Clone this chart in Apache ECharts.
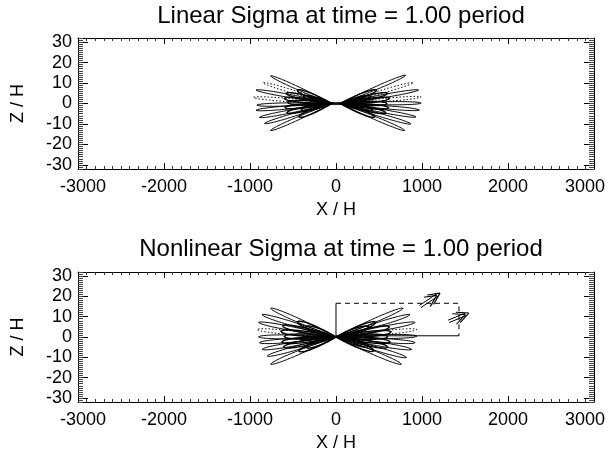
<!DOCTYPE html>
<html>
<head>
<meta charset="utf-8">
<script src="https://cdn.jsdelivr.net/npm/echarts@6/dist/echarts.min.js"></script>
<style>html,body{margin:0;padding:0;background:#fff}#c{width:608px;height:453px}</style>
</head>
<body>
<div id="c"></div>
<script>
// ---------------- data ----------------
const titles = ['Linear Sigma at time = 1.00 period', 'Nonlinear Sigma at time = 1.00 period'];
const xTicks = [-3000, -2000, -1000, 0, 1000, 2000, 3000];
const zTicks = [-30, -20, -10, 0, 10, 20, 30];

// Top panel (linear): apex points and lobe tips
const linApexX = [-50, 50];
const linApexZ = [0, 0];
const linLeftTipX  = [-760, -850, -930, -960, -920, -930, -890, -830, -760];
const linLeftTipZ  = [13.5, 10.2, 6.6, 3.0, -0.8, -3.3, -6.8, -9.8, -13.2];
const linRightTipX = [810, 900, 960, 990, 990, 970, 930, 870, 800];
const linRightTipZ = [13.8, 10.2, 6.6, 3.2, 0.2, -3.2, -6.6, -10.0, -13.2];
const linLeftInnerX  = [-580, -600, -560, -590, -570, -450, -430, -380, -400];
const linLeftInnerZ  = [5.0, 2.5, 0.5, -2.0, -4.5, 6.5, -6.5, 3.5, -3.0];
const linRightInnerX = [600, 620, 590, 610, 580, 470, 450, 400, 420];
const linRightInnerZ = [5.0, 2.5, 0.0, -2.2, -4.6, 6.5, -6.5, 3.5, -3.0];

// Bottom panel (nonlinear)
const nlApexX = [0, 0];
const nlApexZ = [0, 0];
const nlLeftTipX  = [-760, -860, -900, -920, -900, -890, -860, -800, -760];
const nlLeftTipZ  = [14.2, 11.0, 7.2, 3.7, 0.1, -2.8, -6.1, -9.4, -13.4];
const nlRightTipX = [780, 860, 920, 940, 940, 920, 880, 820, 760];
const nlRightTipZ = [14.2, 11.0, 7.2, 3.7, 0.4, -2.8, -6.1, -10.1, -13.4];
const nlLeftInnerX  = [-620, -640, -600, -630, -610, -450, -430, -350, -350];
const nlLeftInnerZ  = [5.5, 2.8, 0.3, -2.5, -5.0, 7.5, -7.0, 5.0, -5.0];
const nlRightInnerX = [620, 640, 600, 630, 600, 460, 440, 380, 380];
const nlRightInnerZ = [5.0, 2.5, 0.2, -2.5, -5.0, 7.2, -6.8, 5.0, -4.5];

// Vectors (bottom panel)
const arrowStartX = [980, 1310];
const arrowStartZ = [15.0, 7.7];
const arrowEndX   = [1210, 1545];
const arrowEndZ   = [21.6, 11.8];
// Reference box (bottom panel)
const boxX = [0, 1430];
const boxZ = [0.6, 16.6];
const boxOriginZ = 0;

// ---------------- styling ----------------
const FONT = 'Liberation Sans';
const INK = '#000';
const linDotted = [1, 3];
const nlDotted = [3];

function lobeItems(apexX, apexZ, tipX, tipZ, pick) {
  const out = [];
  tipX.forEach((x, i) => { if (pick(i)) out.push([apexX, apexZ, x, tipZ[i]]); });
  return out;
}

function lobeRender(W, lw, dash) {
  return function (params, api) {
    const a = api.coord([api.value(0), api.value(1)]);
    const b = api.coord([api.value(2), api.value(3)]);
    const dx = b[0] - a[0], dy = b[1] - a[1];
    const L = Math.hypot(dx, dy) || 1;
    const nx = -dy / L, ny = dx / L;
    const N = 48, pts = [];
    const hw = t => W * 2.6 * t * Math.sqrt(1 - t);
    for (let i = 0; i <= N; i++) {
      const t = i / N, h = hw(t);
      pts.push([a[0] + dx * t + nx * h, a[1] + dy * t + ny * h]);
    }
    for (let i = N; i >= 0; i--) {
      const t = i / N, h = hw(t);
      pts.push([a[0] + dx * t - nx * h, a[1] + dy * t - ny * h]);
    }
    return { type: 'polygon', shape: { points: pts },
      style: { fill: 'none', stroke: INK, lineWidth: lw, lineDash: dash || null } };
  };
}

function arrowRender(params, api) {
  const a = api.coord([api.value(0), api.value(1)]);
  const b = api.coord([api.value(2), api.value(3)]);
  const dx = b[0] - a[0], dy = b[1] - a[1];
  const L = Math.hypot(dx, dy) || 1;
  const ux = dx / L, uy = dy / L, nx = -uy, ny = ux;
  const children = [];
  [-1.3, 1.3].forEach(o => {
    children.push({ type: 'line', shape: { x1: a[0] + nx * o, y1: a[1] + ny * o, x2: b[0] - ux * 3 + nx * o, y2: b[1] - uy * 3 + ny * o },
      style: { stroke: INK, lineWidth: 1 } });
  });
  const hl = 13, ang = 0.45;
  [ang, -ang].forEach(s => {
    const c = Math.cos(s), sn = Math.sin(s);
    const rx = -(ux * c - uy * sn), ry = -(ux * sn + uy * c);
    [0, 4].forEach(back => {
      const bx = b[0] - ux * back, by = b[1] - uy * back;
      children.push({ type: 'line', shape: { x1: bx, y1: by, x2: bx + rx * hl, y2: by + ry * hl },
        style: { stroke: INK, lineWidth: 1.1 } });
    });
  });
  return { type: 'group', children };
}

const gridTops = [38, 272];
const grids = gridTops.map(t => ({ left: 78, right: 14, top: t, height: 131 }));

const minorZ = [];
for (let v = -32; v <= 32; v++) minorZ.push(v);

const labelStyle = { fontFamily: FONT, fontSize: 18, color: INK };

const xAxes = [], yAxes = [];
[0, 1].forEach(g => {
  xAxes.push({
    gridIndex: g, type: 'value', position: 'bottom', min: -3000, max: 3000, interval: 1000,
    name: 'X / H', nameLocation: 'middle', nameGap: 32,
    nameTextStyle: { fontFamily: FONT, fontSize: 18, color: INK },
    axisLine: { show: true, onZero: false, lineStyle: { color: INK, width: 1 } },
    axisTick: { show: true, inside: true, length: 6, lineStyle: { color: INK } },
    minorTick: { show: true, splitNumber: 10, length: 3, lineStyle: { color: '#333' } },
    splitLine: { show: false },
    axisLabel: Object.assign({ margin: 9,
      formatter: v => v === -3000 ? '{l|-3000}' : (v === 3000 ? '{r|3000}' : String(v)),
      rich: { l: Object.assign({ padding: [0, 0, 0, 10] }, labelStyle), r: Object.assign({ padding: [0, 18, 0, 0] }, labelStyle) }
    }, labelStyle)
  });
  xAxes.push({
    gridIndex: g, type: 'value', position: 'top', min: -3000, max: 3000, interval: 1000,
    axisLine: { show: true, onZero: false, lineStyle: { color: INK, width: 1 } },
    axisTick: { show: true, inside: true, length: 6, lineStyle: { color: INK } },
    minorTick: { show: true, splitNumber: 10, length: 3, lineStyle: { color: '#333' } },
    splitLine: { show: false }, axisLabel: { show: false }
  });
  ['left', 'right'].forEach(pos => {
    yAxes.push({
      gridIndex: g, type: 'value', position: pos, min: -32, max: 32,
      name: pos === 'left' ? 'Z / H' : '', nameLocation: 'middle', nameGap: 51, nameRotate: 90,
      nameTextStyle: { fontFamily: FONT, fontSize: 18, color: INK },
      axisLine: { show: true, onZero: false, lineStyle: { color: INK, width: 1 } },
      axisTick: { show: true, inside: true, length: 10, customValues: zTicks, lineStyle: { color: INK } },
      splitLine: { show: false },
      axisLabel: Object.assign({ show: pos === 'left', margin: 6, customValues: zTicks }, labelStyle)
    });
    yAxes.push({
      gridIndex: g, type: 'value', position: pos, min: -32, max: 32,
      axisLine: { show: false, onZero: false },
      axisTick: { show: true, inside: true, length: 5, customValues: minorZ, lineStyle: { color: '#444' } },
      splitLine: { show: false }, axisLabel: { show: false }
    });
  });
});

const series = [];
function addLobes(g, items, W, lw, dash) {
  series.push({ type: 'custom', xAxisIndex: g * 2, yAxisIndex: g * 4, silent: true,
    renderItem: lobeRender(W, lw, dash), encode: { x: [0, 2], y: [1, 3] }, data: items });
}
// Top panel
const isDotL = i => linDotted.includes(i);
addLobes(0, lobeItems(linApexX[0], linApexZ[0], linLeftTipX, linLeftTipZ, i => !isDotL(i)), 1.6, 1, null);
addLobes(0, lobeItems(linApexX[0], linApexZ[0], linLeftTipX, linLeftTipZ, isDotL), 1.6, 1, [1.5, 2]);
addLobes(0, lobeItems(linApexX[1], linApexZ[1], linRightTipX, linRightTipZ, i => !isDotL(i)), 1.6, 1, null);
addLobes(0, lobeItems(linApexX[1], linApexZ[1], linRightTipX, linRightTipZ, isDotL), 1.6, 1, [1.5, 2]);
addLobes(0, lobeItems(linApexX[0], linApexZ[0], linLeftInnerX, linLeftInnerZ, () => true), 2.2, 1.4, null);
addLobes(0, lobeItems(linApexX[1], linApexZ[1], linRightInnerX, linRightInnerZ, () => true), 2.2, 1.4, null);
// Bottom panel
const isDotN = i => nlDotted.includes(i);
addLobes(1, lobeItems(nlApexX[0], nlApexZ[0], nlLeftTipX, nlLeftTipZ, i => !isDotN(i)), 2.0, 1, null);
addLobes(1, lobeItems(nlApexX[0], nlApexZ[0], nlLeftTipX, nlLeftTipZ, isDotN), 2.0, 1, [1.5, 2]);
addLobes(1, lobeItems(nlApexX[1], nlApexZ[1], nlRightTipX, nlRightTipZ, i => !isDotN(i)), 2.0, 1, null);
addLobes(1, lobeItems(nlApexX[1], nlApexZ[1], nlRightTipX, nlRightTipZ, isDotN), 2.0, 1, [1.5, 2]);
addLobes(1, lobeItems(nlApexX[0], nlApexZ[0], nlLeftInnerX, nlLeftInnerZ, () => true), 2.6, 1.4, null);
addLobes(1, lobeItems(nlApexX[1], nlApexZ[1], nlRightInnerX, nlRightInnerZ, () => true), 2.6, 1.4, null);

// Box lines
series.push({ type: 'line', xAxisIndex: 2, yAxisIndex: 4, silent: true, symbol: 'none',
  lineStyle: { color: INK, width: 1 },
  data: [[boxX[0], boxOriginZ], [boxX[0], boxZ[1]]] });
series.push({ type: 'line', xAxisIndex: 2, yAxisIndex: 4, silent: true, symbol: 'none',
  lineStyle: { color: INK, width: 1 },
  data: [[boxX[1], boxZ[0]], [boxX[0], boxZ[0]]] });
series.push({ type: 'line', xAxisIndex: 2, yAxisIndex: 4, silent: true, symbol: 'none',
  lineStyle: { color: INK, width: 1, type: [5, 4] },
  data: [[boxX[0], boxZ[1]], [boxX[1], boxZ[1]], [boxX[1], boxZ[0]]] });
// Arrows
series.push({ type: 'custom', xAxisIndex: 2, yAxisIndex: 4, silent: true,
  renderItem: arrowRender, encode: { x: [0, 2], y: [1, 3] },
  data: arrowStartX.map((x, i) => [x, arrowStartZ[i], arrowEndX[i], arrowEndZ[i]]) });

const chart = echarts.init(document.getElementById('c'), null, { renderer: 'canvas' });
chart.setOption({
  animation: false,
  backgroundColor: '#fff',
  title: titles.map((t, i) => ({ text: t, left: 336, top: i === 0 ? -1 : 232, textAlign: 'center',
    textStyle: { fontFamily: FONT, fontSize: 24, fontWeight: 'normal', color: INK } })),
  grid: grids,
  xAxis: xAxes,
  yAxis: yAxes,
  series: series
});
</script>
</body>
</html>
